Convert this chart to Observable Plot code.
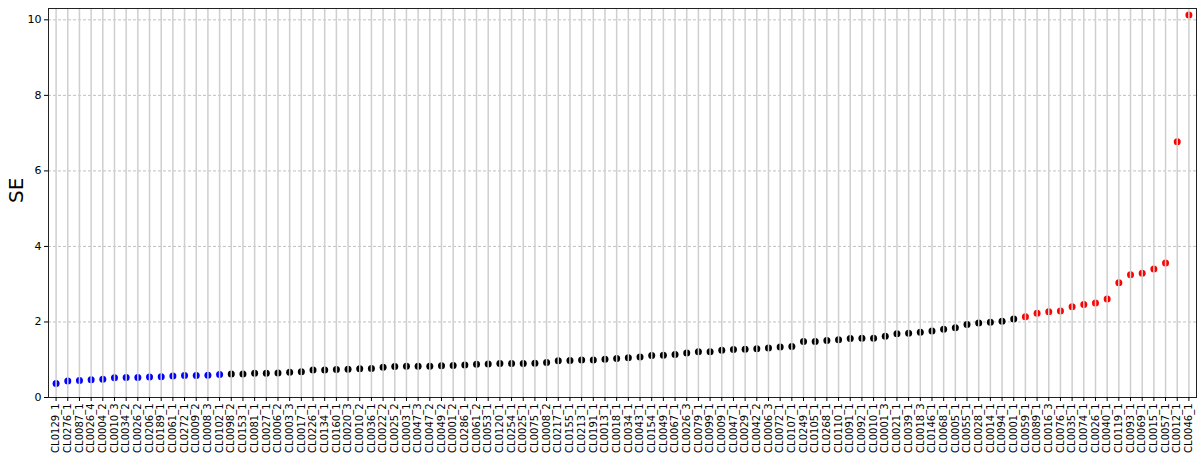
<!DOCTYPE html>
<html>
<head>
<meta charset="utf-8">
<script src="https://cdn.jsdelivr.net/npm/d3@7"></script>
<script src="https://cdn.jsdelivr.net/npm/@observablehq/plot@0.6"></script>
<style>
  html, body { margin: 0; padding: 0; background: #fff; }
  #chart { width: 1200px; height: 462px; }
  svg { font-family: "DejaVu Sans", sans-serif; }
</style>
</head>
<body>
<div id="chart"></div>
<script>
const categories = [
  "CL0129_1","CL0276_1","CL0087_1","CL0026_4","CL0004_2","CL0010_3","CL0034_2","CL0026_2","CL0206_1","CL0189_1",
  "CL0061_1","CL0272_1","CL0009_2","CL0008_3","CL0102_1","CL0098_2","CL0153_1","CL0081_1","CL0027_1","CL0006_2",
  "CL0003_3","CL0017_1","CL0226_1","CL0134_1","CL0160_1","CL0020_3","CL0010_2","CL0036_1","CL0022_2","CL0025_2",
  "CL0003_1","CL0047_3","CL0047_2","CL0049_2","CL0001_2","CL0286_1","CL0061_2","CL0053_1","CL0120_1","CL0254_1",
  "CL0025_1","CL0075_1","CL0008_2","CL0217_1","CL0155_1","CL0213_1","CL0191_1","CL0013_1","CL0018_1","CL0034_1",
  "CL0043_1","CL0154_1","CL0049_1","CL0067_1","CL0026_3","CL0079_1","CL0099_1","CL0009_1","CL0047_1","CL0029_1",
  "CL0042_2","CL0006_3","CL0072_1","CL0107_1","CL0249_1","CL0105_1","CL0268_1","CL0110_1","CL0091_1","CL0092_1",
  "CL0010_1","CL0001_3","CL0021_1","CL0039_1","CL0018_3","CL0146_1","CL0068_1","CL0005_1","CL0055_1","CL0028_1",
  "CL0014_1","CL0094_1","CL0001_1","CL0059_1","CL0089_1","CL0016_3","CL0076_1","CL0035_1","CL0074_1","CL0026_1",
  "CL0040_1","CL0119_1","CL0093_1","CL0069_1","CL0015_1","CL0057_1","CL0012_1","CL0046_1"
];
const seValues = [
  0.37,0.44,0.45,0.47,0.48,0.52,0.53,0.53,0.54,0.55,
  0.57,0.58,0.58,0.59,0.61,0.62,0.62,0.64,0.64,0.65,
  0.67,0.68,0.73,0.73,0.74,0.75,0.76,0.77,0.80,0.82,
  0.83,0.83,0.83,0.84,0.85,0.86,0.88,0.89,0.90,0.90,
  0.90,0.91,0.93,0.97,0.98,0.99,0.99,1.01,1.03,1.05,
  1.07,1.11,1.12,1.14,1.18,1.21,1.21,1.25,1.27,1.28,
  1.29,1.31,1.34,1.35,1.48,1.48,1.51,1.53,1.56,1.57,
  1.57,1.62,1.69,1.70,1.73,1.76,1.81,1.85,1.93,1.97,
  1.99,2.02,2.08,2.14,2.23,2.27,2.29,2.40,2.46,2.50,
  2.61,3.04,3.25,3.29,3.40,3.56,6.77,10.13
];
const groupNames = ["low", "mid", "high"];
const lowCount = 15;
const highCount = 15;
const yTicks = [0, 2, 4, 6, 8, 10];

const data = categories.map((c, i) => ({
  cat: c,
  se: seValues[i],
  group: i < lowCount ? "low" : (i >= categories.length - highCount ? "high" : "mid")
}));

const chart = Plot.plot({
  width: 1200,
  height: 462,
  marginLeft: 48,
  marginRight: 4,
  marginTop: 8,
  marginBottom: 65,
  style: { fontFamily: "DejaVu Sans, sans-serif", background: "#fff" },
  x: { type: "point", domain: categories, padding: 0.65 },
  y: { domain: [0, 10.3] },
  color: { domain: groupNames, range: ["blue", "black", "red"] },
  marks: [
    Plot.gridY(yTicks, { stroke: "#b0b0b0", strokeOpacity: 1, strokeDasharray: "3,2", strokeWidth: 0.8 }),
    Plot.dot(data, { x: "cat", y: "se", fill: "group", r: 3.5, stroke: null }),
    Plot.gridX({ stroke: "#cfcfcf", strokeOpacity: 1, strokeWidth: 1.5 }),
    Plot.frame({ stroke: "#222", strokeWidth: 1 }),
    Plot.axisY({ ticks: yTicks, tickSize: 4, tickPadding: 3, fontSize: 11, label: null, tickFormat: d => String(d) }),
    Plot.axisX({ tickRotate: -90, tickSize: 4, tickPadding: 2, fontSize: 10, label: null }),
    Plot.text(["SE"], { frameAnchor: "left", text: d => d, rotate: -90, dx: -32, fontSize: 20, fill: "black" })
  ]
});
document.getElementById("chart").appendChild(chart);
</script>
</body>
</html>
